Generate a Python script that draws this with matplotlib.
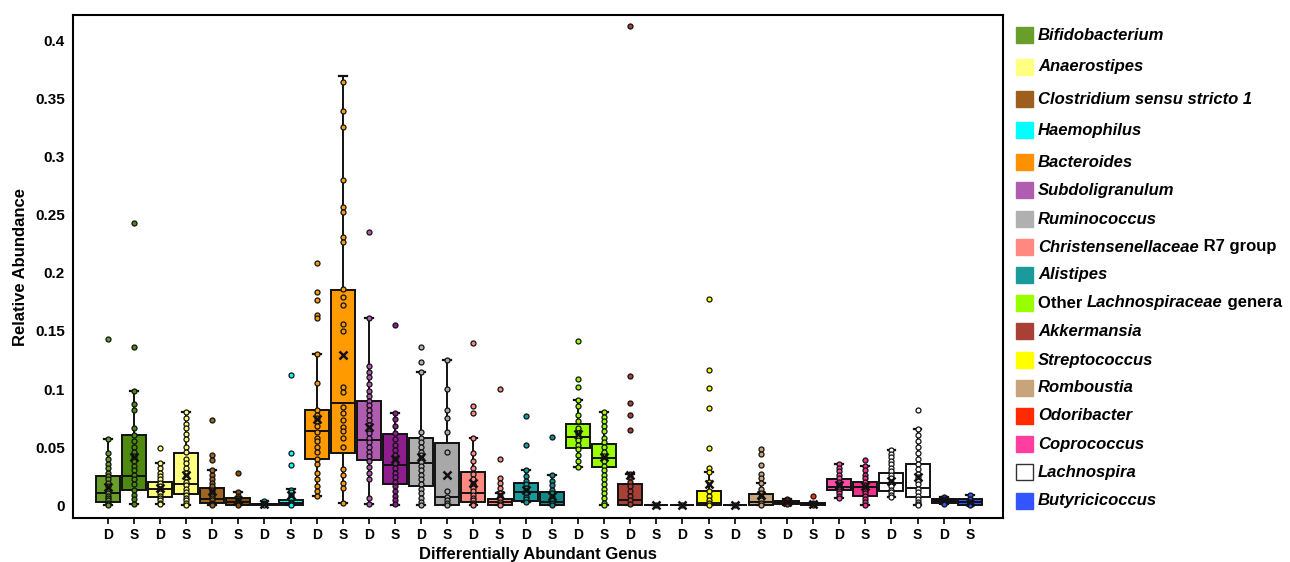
import matplotlib
matplotlib.use("Agg")
import matplotlib.pyplot as plt
from matplotlib.patches import Rectangle

plt.rcParams['font.family'] = ['Liberation Sans', 'DejaVu Sans']

# ---------------- data ----------------
genera = ["Bifidobacterium", "Anaerostipes", "Clostridium sensu stricto 1", "Haemophilus",
          "Bacteroides", "Subdoligranulum", "Ruminococcus", "Christensenellaceae R7 group",
          "Alistipes", "Other Lachnospiraceae genera", "Akkermansia", "Streptococcus",
          "Romboustia", "Odoribacter", "Coprococcus", "Lachnospira", "Butyricicoccus"]
groups = ["D", "S"]

legend_colors = ["#6a9e2a", "#ffff80", "#9e5f1e", "#00ffff", "#ff9000", "#b05cb0", "#b0b0b0",
                 "#ff8880", "#1a9a9a", "#99ff00", "#a84035", "#ffff00", "#c8a47c", "#ff2a00",
                 "#ff3ea0", "#ffffff", "#3355ff"]
d_colors = ["#6a9e2a", "#ffff80", "#9e6422", "#00ffff", "#ff9a00", "#b05cb0", "#b0b0b0",
            "#ff8880", "#1a9a9a", "#99ff00", "#a84035", "#ffff00", "#c8a47c", "#ff2a00",
            "#ff4ca6", "#ffffff", "#3355ff"]
s_colors = ["#4e8a0e", "#ffff80", "#8a4f00", "#00ffff", "#ff9a00", "#8e1e8e", "#a8a8a8",
            "#ff8880", "#128888", "#99ff00", "#a84035", "#ffff00", "#c8a47c", "#ff2a00",
            "#f0308a", "#ffffff", "#3355ff"]

# box statistics, 34 groups (D,S for each genus)
q1 = [0.0026, 0.013, 0.0072, 0.0092, 0.0015, 0.0003, 0.0, 0.0, 0.040, 0.045,
      0.0388, 0.018, 0.0164, 0.0, 0.0029, 0.0003, 0.0034, 0.0003, 0.049, 0.033,
      0.0003, 0.0, 0.0, 0.0003, 0.0, 0.0, 0.0005, 0.0, 0.0127, 0.008,
      0.0118, 0.0069, 0.002, 0.0]
med = [0.010, 0.025, 0.0135, 0.0178, 0.005, 0.0026, 0.0005, 0.0015, 0.0635, 0.088,
       0.0557, 0.0347, 0.0365, 0.0072, 0.010, 0.0025, 0.011, 0.0026, 0.059, 0.0405,
       0.0043, 0.0, 0.0, 0.002, 0.0, 0.0026, 0.0015, 0.0005, 0.0153, 0.0153,
       0.0193, 0.0147, 0.0035, 0.0023]
q3 = [0.025, 0.060, 0.0198, 0.0448, 0.015, 0.0063, 0.001, 0.0046, 0.082, 0.1856,
      0.090, 0.0615, 0.058, 0.0537, 0.0284, 0.0055, 0.0187, 0.0112, 0.070, 0.0529,
      0.018, 0.0, 0.0, 0.012, 0.0, 0.0095, 0.0032, 0.002, 0.0227, 0.020,
      0.0276, 0.0353, 0.005, 0.005]
whislo = [0.0, 0.001, 0.001, 0.0, 0.0, 0.0, 0.0, 0.0, 0.008, 0.0015,
          0.0006, 0.0, 0.0, 0.0, 0.0, 0.0, 0.0025, 0.0, 0.0325, 0.0003,
          0.0, 0.0, 0.0, 0.0, 0.0, 0.0, 0.0, 0.0, 0.0063, 0.0,
          0.0072, 0.0, 0.0005, 0.0]
whishi = [0.057, 0.0985, 0.0365, 0.080, 0.030, 0.011, 0.0037, 0.0138, 0.130, 0.370,
          0.1615, 0.079, 0.115, 0.125, 0.058, 0.0106, 0.0305, 0.0256, 0.0908, 0.080,
          0.027, 0.0, 0.0, 0.0284, 0.0, 0.019, 0.005, 0.002, 0.035, 0.034,
          0.0474, 0.0655, 0.0069, 0.0089]
means = [0.0155, 0.041, 0.015, 0.026, 0.012, 0.004, 0.001, 0.009, 0.074, 0.129,
         0.0675, 0.040, 0.0417, 0.026, 0.019, 0.009, 0.013, 0.008, 0.061, 0.041,
         0.026, 0.0, 0.0, 0.018, 0.0, 0.009, 0.003, 0.001, 0.017, 0.016,
         0.021, 0.024, 0.004, 0.003]

points = [
    [0.143, 0.057, 0.045, 0.040, 0.035, 0.032, 0.028, 0.025, 0.022, 0.019, 0.016, 0.012, 0.010, 0.008, 0.006, 0.004, 0.002, 0.001, 0.0],
    [0.243, 0.136, 0.0985, 0.087, 0.082, 0.066, 0.060, 0.055, 0.050, 0.046, 0.042, 0.040, 0.038, 0.034, 0.030, 0.026, 0.022, 0.018, 0.013, 0.009, 0.005, 0.001],
    [0.049, 0.0365, 0.032, 0.028, 0.025, 0.022, 0.019, 0.016, 0.014, 0.012, 0.010, 0.008, 0.006, 0.004, 0.002, 0.001],
    [0.080, 0.075, 0.070, 0.066, 0.061, 0.057, 0.050, 0.046, 0.040, 0.036, 0.032, 0.028, 0.024, 0.020, 0.017, 0.014, 0.011, 0.009, 0.006, 0.004, 0.002, 0.0],
    [0.073, 0.043, 0.039, 0.030, 0.026, 0.022, 0.019, 0.016, 0.013, 0.010, 0.008, 0.006, 0.004, 0.002, 0.001, 0.0],
    [0.0276, 0.011, 0.008, 0.006, 0.004, 0.003, 0.002, 0.001, 0.0],
    [0.0037, 0.002, 0.001, 0.0005, 0.0],
    [0.112, 0.045, 0.0345, 0.013, 0.011, 0.009, 0.007, 0.005, 0.003, 0.002, 0.001, 0.0],
    [0.209, 0.184, 0.177, 0.164, 0.161, 0.130, 0.105, 0.082, 0.078, 0.075, 0.072, 0.068, 0.063, 0.058, 0.055, 0.050, 0.046, 0.040, 0.035, 0.028, 0.022, 0.016, 0.012, 0.008],
    [0.365, 0.340, 0.326, 0.280, 0.257, 0.253, 0.231, 0.227, 0.186, 0.179, 0.172, 0.156, 0.150, 0.102, 0.097, 0.0845, 0.079, 0.073, 0.0675, 0.064, 0.058, 0.050, 0.031, 0.026, 0.019, 0.0144, 0.0015],
    [0.235, 0.1615, 0.120, 0.115, 0.110, 0.104, 0.098, 0.094, 0.090, 0.086, 0.082, 0.078, 0.073, 0.069, 0.065, 0.062, 0.058, 0.054, 0.050, 0.046, 0.042, 0.038, 0.033, 0.028, 0.022, 0.006, 0.0006],
    [0.155, 0.079, 0.074, 0.068, 0.062, 0.057, 0.052, 0.047, 0.043, 0.040, 0.036, 0.032, 0.028, 0.024, 0.020, 0.016, 0.012, 0.008, 0.004, 0.001],
    [0.136, 0.123, 0.115, 0.063, 0.058, 0.054, 0.050, 0.046, 0.043, 0.040, 0.037, 0.034, 0.030, 0.026, 0.022, 0.018, 0.014, 0.010, 0.006, 0.003, 0.0],
    [0.125, 0.100, 0.082, 0.075, 0.063, 0.046, 0.012, 0.007, 0.004, 0.002, 0.0],
    [0.140, 0.085, 0.079, 0.058, 0.045, 0.038, 0.032, 0.027, 0.022, 0.018, 0.015, 0.012, 0.009, 0.006, 0.004, 0.002, 0.001, 0.0],
    [0.0997, 0.0397, 0.023, 0.019, 0.0144, 0.0106, 0.008, 0.005, 0.003, 0.001, 0.0],
    [0.0767, 0.052, 0.0305, 0.025, 0.021, 0.018, 0.015, 0.012, 0.010, 0.007, 0.005, 0.003],
    [0.0586, 0.0256, 0.021, 0.017, 0.013, 0.010, 0.007, 0.004, 0.002, 0.0],
    [0.141, 0.1086, 0.102, 0.0908, 0.085, 0.078, 0.072, 0.066, 0.062, 0.059, 0.056, 0.052, 0.048, 0.043, 0.038, 0.0325],
    [0.080, 0.076, 0.072, 0.068, 0.064, 0.058, 0.054, 0.050, 0.046, 0.042, 0.038, 0.034, 0.030, 0.026, 0.022, 0.018, 0.014, 0.010, 0.006, 0.002, 0.0003],
    [0.413, 0.111, 0.0876, 0.0776, 0.065, 0.027, 0.024, 0.020, 0.016, 0.012, 0.008, 0.004, 0.001],
    [0.0],
    [0.0],
    [0.178, 0.116, 0.101, 0.0836, 0.049, 0.032, 0.0284, 0.020, 0.012, 0.008, 0.004, 0.002, 0.0],
    [0.0],
    [0.0486, 0.044, 0.0348, 0.0267, 0.023, 0.019, 0.014, 0.010, 0.007, 0.004, 0.002, 0.0],
    [0.005, 0.004, 0.003, 0.002, 0.001],
    [0.0078, 0.002, 0.001, 0.0],
    [0.035, 0.032, 0.029, 0.026, 0.023, 0.020, 0.018, 0.016, 0.014, 0.012, 0.010, 0.008, 0.0063],
    [0.0388, 0.034, 0.030, 0.026, 0.023, 0.020, 0.017, 0.015, 0.012, 0.010, 0.008, 0.005, 0.003, 0.0],
    [0.0474, 0.044, 0.041, 0.038, 0.035, 0.032, 0.029, 0.026, 0.023, 0.020, 0.018, 0.016, 0.013, 0.011, 0.009, 0.0072],
    [0.082, 0.0655, 0.060, 0.055, 0.050, 0.045, 0.040, 0.035, 0.031, 0.027, 0.024, 0.021, 0.018, 0.014, 0.011, 0.008, 0.005, 0.003, 0.001, 0.0],
    [0.0069, 0.005, 0.004, 0.003, 0.002, 0.001],
    [0.0089, 0.005, 0.003, 0.002, 0.001, 0.0],
]

y_ticks = [0, 0.05, 0.1, 0.15, 0.2, 0.25, 0.3, 0.35, 0.4]
y_ticklabels = ["0", "0.05", "0.1", "0.15", "0.2", "0.25", "0.3", "0.35", "0.4"]

# ---------------- figure ----------------
W, H = 1290, 562
fig = plt.figure(figsize=(12.9, 5.62), dpi=100)
ax = fig.add_axes([73 / W, 44 / H, 930 / W, 503 / H])

n = len(q1)
positions = list(range(n))
colors = []
for i in range(len(genera)):
    colors += [d_colors[i], s_colors[i]]

stats = []
for i in range(n):
    stats.append(dict(q1=q1[i], med=med[i], q3=q3[i], whislo=whislo[i], whishi=whishi[i],
                      mean=means[i], fliers=[]))

bp = ax.bxp(stats, positions=positions, widths=0.92, capwidths=0.3, patch_artist=True,
            showfliers=False, showmeans=False,
            boxprops=dict(edgecolor="#111111", linewidth=1.4),
            medianprops=dict(color="#111111", linewidth=1.4),
            whiskerprops=dict(color="#111111", linewidth=1.4),
            capprops=dict(color="#111111", linewidth=1.6), zorder=2)
for patch, c in zip(bp["boxes"], colors):
    patch.set_facecolor(c)

for i in range(n):
    ax.plot([positions[i]] * len(points[i]), points[i], linestyle="none", marker="o",
            markersize=3.6, markerfacecolor=colors[i], markeredgecolor="#111111",
            markeredgewidth=0.9, zorder=4)
    ax.plot([positions[i]], [means[i]], linestyle="none", marker="x", markersize=5.5,
            markeredgewidth=1.8, color="#111111", zorder=5)

ax.set_xlim(-1.33, n - 1 + 1.27)
ax.set_ylim(-0.0112, 0.4224)
ax.set_yticks(y_ticks)
ax.set_yticklabels(y_ticklabels, fontsize=11, fontweight="bold")
ax.tick_params(axis="y", length=0, pad=6)
ax.set_xticks(positions)
ax.set_xticklabels(groups * len(genera), fontsize=10, fontweight="bold")
ax.tick_params(axis="x", length=4, width=1.2, direction="out", pad=3)
for sp in ax.spines.values():
    sp.set_linewidth(1.5)
    sp.set_color("black")
ax.set_xlabel("Differentially Abundant Genus", fontsize=12, fontweight="bold", labelpad=4)
ax.set_ylabel("Relative Abundance", fontsize=12, fontweight="bold", labelpad=5)

# ---------------- legend (manual, mixed italic) ----------------
legend_y_px = [35, 67, 99, 130, 162, 190, 219, 247, 275, 303, 331, 360, 388, 416, 444, 472, 501]
legend_parts = []
for g in genera:
    if g == "Christensenellaceae R7 group":
        legend_parts.append([("Christensenellaceae", "italic"), (" R7 group", "normal")])
    elif g == "Other Lachnospiraceae genera":
        legend_parts.append([("Other ", "normal"), ("Lachnospiraceae", "italic"), (" genera", "normal")])
    else:
        legend_parts.append([(g, "italic")])

for i, ypx in enumerate(legend_y_px):
    yc = 1 - ypx / H
    edge = "#333333" if legend_colors[i] == "#ffffff" else legend_colors[i]
    fig.patches.append(Rectangle((1016 / W, yc - 8 / H), 17 / W, 16 / H, transform=fig.transFigure,
                                 facecolor=legend_colors[i], edgecolor=edge, linewidth=1.0))
    last = None
    for txt, style in legend_parts[i]:
        if last is None:
            last = fig.text(1038 / W, yc, txt, fontsize=12, fontweight="bold", style=style,
                            va="center", ha="left")
        else:
            last = ax.annotate(txt, xy=(1, 0), xycoords=last, fontsize=12, fontweight="bold",
                               style=style, va="bottom", ha="left", annotation_clip=False)

fig.savefig("out.png", dpi=100)
